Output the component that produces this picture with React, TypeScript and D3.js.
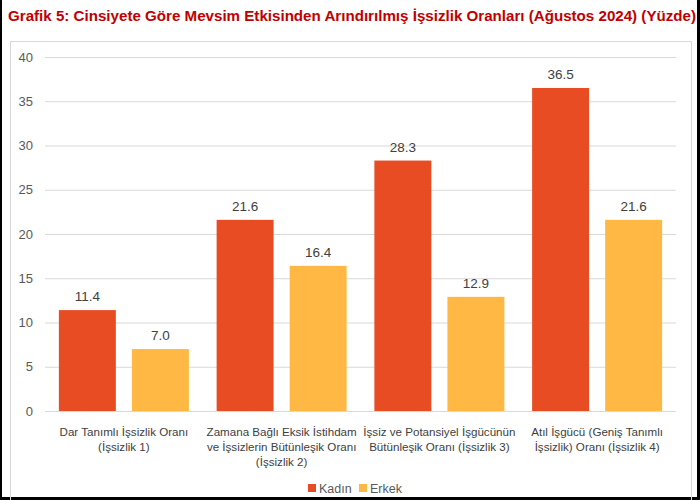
import React, { useEffect } from "react";
import * as d3 from "d3";

const categories = [
  ["Dar Tanımlı İşsizlik Oranı", "(İşsizlik 1)"],
  ["Zamana Bağlı Eksik İstihdam", "ve İşsizlerin Bütünleşik Oranı", "(İşsizlik 2)"],
  ["İşsiz ve Potansiyel İşgücünün", "Bütünleşik Oranı (İşsizlik 3)"],
  ["Atıl İşgücü (Geniş Tanımlı", "İşsizlik) Oranı (İşsizlik 4)"],
];
const seriesNames = ["Kadın", "Erkek"];
const kadin = [11.4, 21.6, 28.3, 36.5];
const erkek = [7.0, 16.4, 12.9, 21.6];
const yTicks = [0, 5, 10, 15, 20, 25, 30, 35, 40];
const colors = ["#E84C22", "#FFB843"];

const W = 700;
const H = 500;
const font = "'Liberation Sans', Arial, sans-serif";

const App: React.FC = () => {
  useEffect(() => {
    document.body.style.margin = "0";
  }, []);

  const x0 = d3
    .scaleBand<number>()
    .domain(d3.range(categories.length))
    .range([45, 676]);
  const x1 = d3
    .scaleBand<string>()
    .domain(seriesNames)
    .range([0, x0.bandwidth()])
    .paddingInner(0.22)
    .paddingOuter(0.19);
  const y = d3.scaleLinear().domain([0, 40]).range([411, 57]);

  const values = [kadin, erkek];

  return (
    <svg width={W} height={H} style={{ display: "block", fontFamily: font }}>
      <rect x={0} y={0} width={W} height={H} fill="#fff" />
      {/* outer frame */}
      <line x1={1} y1={0} x2={1} y2={H} stroke="#000" strokeWidth={2} />
      <line x1={W - 1.5} y1={0} x2={W - 1.5} y2={H} stroke="#000" strokeWidth={3} />
      <line x1={0} y1={H - 1.5} x2={W} y2={H - 1.5} stroke="#000" strokeWidth={3} />
      {/* chart area border */}
      <rect x={10.5} y={41.5} width={681} height={460} fill="none" stroke="#D9D9D9" />

      <text
        x={8}
        y={21}
        fontSize={15}
        fontWeight="bold"
        fill="#C00000"
        textLength={688}
        lengthAdjust="spacingAndGlyphs"
      >
        Grafik 5: Cinsiyete Göre Mevsim Etkisinden Arındırılmış İşsizlik Oranları (Ağustos 2024) (Yüzde)
      </text>

      {yTicks.map((t) => (
        <g key={t}>
          <line x1={45} x2={676} y1={y(t) + 0.5} y2={y(t) + 0.5} stroke="#D9D9D9" strokeWidth={1} />
          <text x={33} y={y(t) + 4.5} textAnchor="end" fontSize={13} fill="#595959">
            {t}
          </text>
        </g>
      ))}

      {categories.map((lines, i) => (
        <g key={i} transform={`translate(${x0(i)},0)`}>
          {seriesNames.map((s, j) => {
            const v = values[j][i];
            const bx = x1(s)!;
            return (
              <g key={s}>
                <rect
                  x={bx}
                  y={y(v)}
                  width={x1.bandwidth()}
                  height={y(0) - y(v)}
                  fill={colors[j]}
                />
                <text
                  x={bx + x1.bandwidth() / 2}
                  y={y(v) - 9}
                  textAnchor="middle"
                  fontSize={13.5}
                  fill="#404040"
                >
                  {v.toFixed(1)}
                </text>
              </g>
            );
          })}
          {lines.map((l, k) => (
            <text
              key={k}
              x={x0.bandwidth() / 2}
              y={436 + k * 15}
              textAnchor="middle"
              fontSize={11.6}
              fill="#404040"
            >
              {l}
            </text>
          ))}
        </g>
      ))}

      {/* legend */}
      {seriesNames.map((s, j) => {
        const lx = [308, 359][j];
        return (
          <g key={s}>
            <rect x={lx} y={484} width={8} height={8} fill={colors[j]} />
            <text x={lx + 11} y={492.5} fontSize={12.5} fill="#595959">
              {s}
            </text>
          </g>
        );
      })}
    </svg>
  );
};

export default App;
